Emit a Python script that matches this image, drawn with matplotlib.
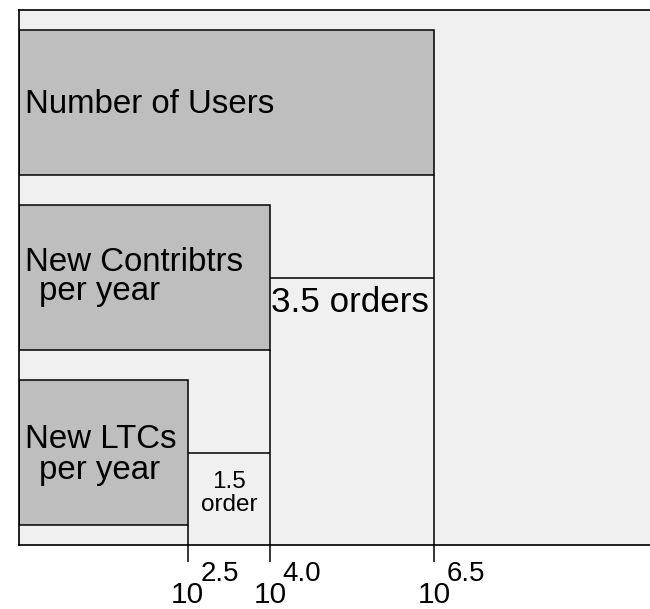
import matplotlib
matplotlib.use("Agg")
import matplotlib.pyplot as plt
import numpy as np

plt.rcParams["font.family"] = ["Liberation Sans", "DejaVu Sans"]

# =========================================================
# Data (the x axis is schematic: bar lengths in drawing units,
# ticks labelled with the order of magnitude they stand for)
# =========================================================
bar_lines = [
    ["Number of Users"],
    ["New Contribtrs", "per year"],
    ["New LTCs", "per year"],
]
bar_lengths = [5.0, 3.0, 2.0]
tick_exponents = ["6.5", "4.0", "2.5"]
gap_lines = [["3.5 orders"], ["1.5", "order"]]

# =========================================================
# Style
# =========================================================
PX = 0.72                 # pixels -> points at dpi 100
BG = "#f0f0f0"
BAR = "#bebebe"
LW = 1.1
BAR_H = 145 / 175
PAD = 92.5 / 175
X0, X1 = -0.052, 7.746

fig = plt.figure(figsize=(6.5, 6.09), dpi=100)
ax = fig.add_axes([19 / 650, 64 / 609, 641 / 650, 535 / 609])
ax.set_facecolor(BG)

n = len(bar_lengths)
y = np.arange(n)
vals = np.array(bar_lengths)

ax.barh(y, vals - X0, left=X0, height=BAR_H, color=BAR,
        edgecolor="black", linewidth=LW, zorder=2)

ax.set_xlim(X0, X1)
ax.set_ylim(n - 1 + PAD, -PAD)
y_bottom = n - 1 + PAD

# drop lines from each bar end, and step lines to the next bar level
for i in range(n):
    ax.plot([vals[i], vals[i]], [i + BAR_H / 2, y_bottom], color="black",
            lw=LW, zorder=3, solid_capstyle="butt")
    if i < n - 1:
        ax.plot([vals[i + 1], vals[i]], [i + 1, i + 1], color="black",
                lw=LW, zorder=3, solid_capstyle="butt")

# bar labels (left aligned, second line indented)
line_dx = [6.0, 20.0]
line_dy = [
    [10.8],
    [-6.8, 22.7],
    [-4.5, 26.0],
]
for i, lines in enumerate(bar_lines):
    for j, txt in enumerate(lines):
        ax.annotate(txt, xy=(0, i), xycoords=("axes fraction", "data"),
                    xytext=(line_dx[j] * PX, -line_dy[i][j] * PX),
                    textcoords="offset points", ha="left", va="baseline",
                    fontsize=23.8, zorder=4)

# gap annotations
ax.annotate(gap_lines[0][0], xy=(vals[1], 1), xytext=(1.0 * PX, -35 * PX),
            textcoords="offset points", ha="left", va="baseline",
            fontsize=25.2, zorder=4)
mid = (vals[1] + vals[2]) / 2
for j, dy in enumerate([35, 58]):
    ax.annotate(gap_lines[1][j], xy=(mid, 2), xytext=(0, -dy * PX),
                textcoords="offset points", ha="center", va="baseline",
                fontsize=17.5, zorder=4)

# axis: ticks with 10^x labels
ax.set_xticks(vals)
ax.set_yticks([])
ax.tick_params(axis="x", direction="out", length=12.2, width=LW,
               labelbottom=False)
for side in ["top", "left", "bottom", "right"]:
    ax.spines[side].set_linewidth(LW * 1.1)

for v, e in zip(vals, tick_exponents):
    ax.annotate("10", xy=(v, 0), xycoords=("data", "axes fraction"),
                xytext=(0, -58 * PX), textcoords="offset points",
                ha="center", va="baseline", fontsize=21.5, annotation_clip=False)
    ax.annotate(e, xy=(v, 0), xycoords=("data", "axes fraction"),
                xytext=(12.5 * PX, -36 * PX), textcoords="offset points",
                ha="left", va="baseline", fontsize=20, annotation_clip=False)

fig.savefig("out.png", dpi=100)
